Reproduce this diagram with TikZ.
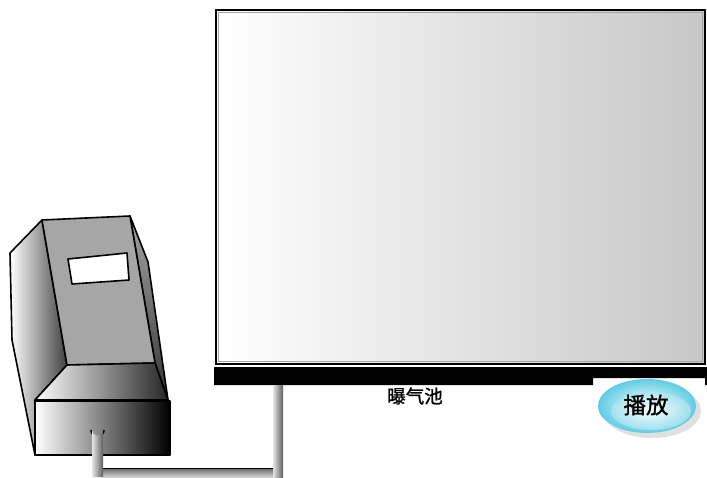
\documentclass[tikz,border=0pt]{standalone}
\usepackage{fontspec}
\newfontfamily\cjk[FakeBold=1.3]{Noto Sans CJK SC}
\usetikzlibrary{shapes.geometric}
\definecolor{rimcyan}{RGB}{95,205,228}
\begin{document}
\begin{tikzpicture}[x=1pt,y=-1pt,
  outline/.style={draw=black,line width=1.6pt,line join=round},
  pipev/.style={left color=gray!20,right color=gray!75!black},
  pipeh/.style={top color=gray!80!black,bottom color=gray!35}]
\useasboundingbox (0,0) rectangle (707,477);
\fill[white] (0,0) rectangle (707,477);

% aeration tank
\shade[left color=white,right color=black!22] (216,10) rectangle (705,364);
\draw[black,line width=1.4pt] (216,10) rectangle (705,364);
\draw[gray!70,line width=0.6pt] (218.5,12.5) rectangle (702.5,361.5);
% base slab of the tank
\fill[black] (214,367) -- (707,367) -- (707,385) -- (705,385) -- (705,378)
  -- (593,378) -- (593,385) -- (214,385) -- cycle;

% air pipe
\shade[pipev] (273,385) rectangle (283,477);
\shade[pipeh] (103,468) rectangle (273,477);
\draw[black,line width=1pt] (103,468) -- (273,468);

% blower: left side face
\shade[left color=white,right color=black!75,outline]
  (10,253) -- (42,220) -- (67,365) -- (35,400) -- (35,455) -- (12,340) -- cycle;
% right side face
\shade[top color=black!35,bottom color=black!80,outline]
  (130,216) -- (148,262) -- (168,400) -- (155,363) -- cycle;
% front face
\fill[black!35,outline] (42,220) -- (130,216) -- (155,363) -- (67,365) -- cycle;
% display window
\fill[white,outline] (68,259) -- (127,253) -- (129,280) -- (72,284) -- cycle;
% base top
\shade[left color=white,right color=black!85,outline]
  (35,400) -- (67,365) -- (155,363) -- (168,400) -- cycle;
% base front
\shade[left color=white,right color=black,outline] (35,401) rectangle (170,455);
% outlet of the blower
\draw[black,line width=1.6pt] (91,430) arc[start angle=180,end angle=0,radius=6.5];
\shade[pipev] (92,477) -- (92,430) arc[start angle=180,end angle=0,radius=5.5] -- (103,477) -- cycle;

% label of the tank
\node[font=\cjk\fontsize{18.5}{18.5}\selectfont] (tank) at (415,396) {曝气池};

% play button
\fill[black!20,opacity=0.6] (652,411) ellipse [x radius=49,y radius=27];
\shade[inner color=white,outer color=rimcyan] (647,406) ellipse [x radius=49,y radius=27];
\shade[inner color=white,outer color=rimcyan!50,opacity=0.7] (651,411) ellipse [x radius=40,y radius=19];
\node[font=\cjk\fontsize{22.5}{22.5}\selectfont] (play) at (646,405) {播放};
\end{tikzpicture}
\end{document}
